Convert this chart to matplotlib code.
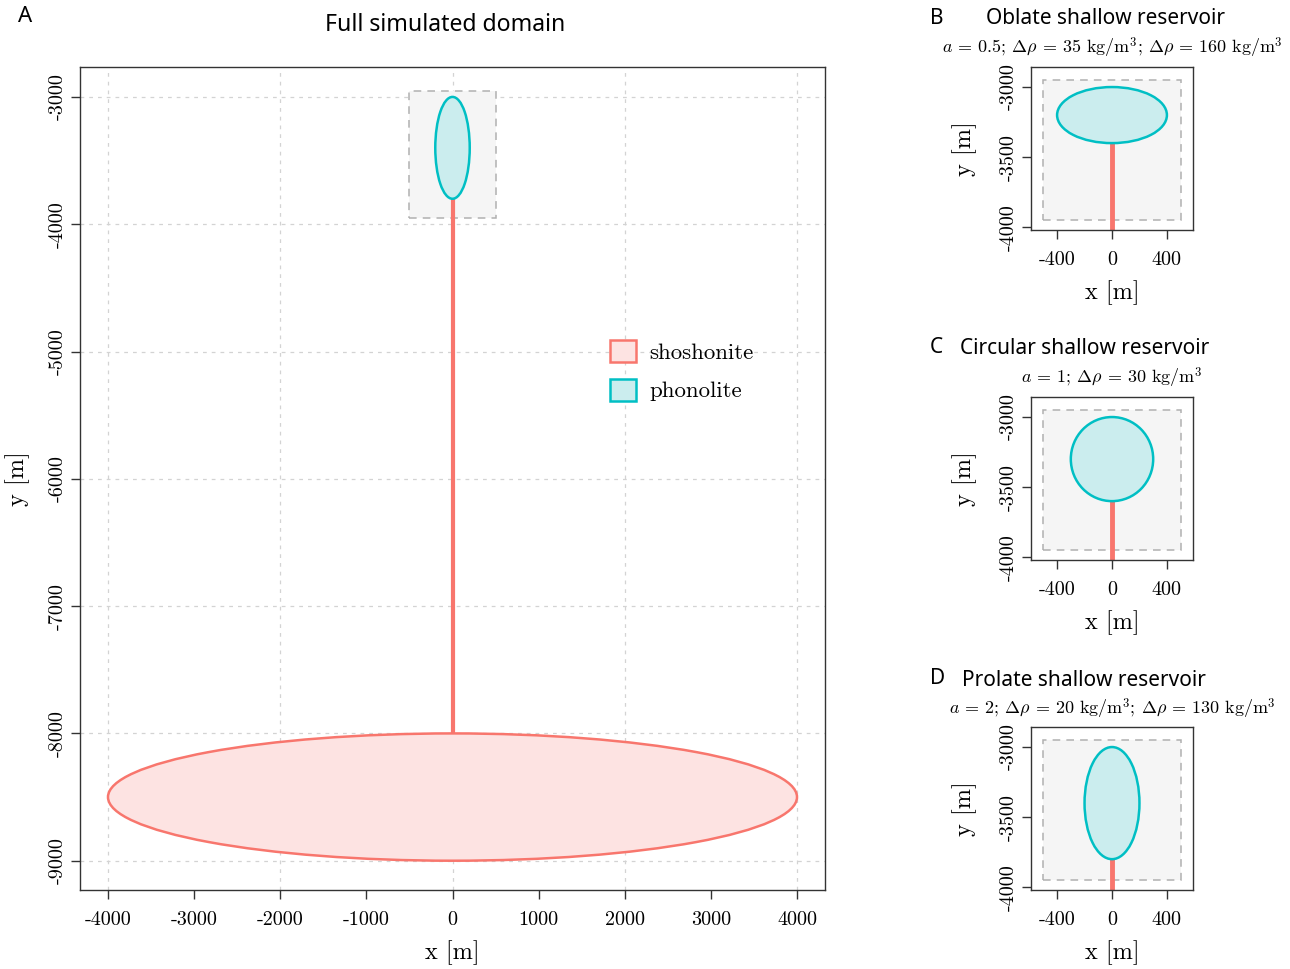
import numpy as np
import matplotlib
matplotlib.use("Agg")
import matplotlib.pyplot as plt
from matplotlib.patches import Ellipse, Rectangle, Patch

plt.rcParams["font.family"] = ["cmr10", "DejaVu Serif"]
plt.rcParams["mathtext.fontset"] = "cm"
plt.rcParams["axes.unicode_minus"] = False
plt.rcParams["axes.formatter.use_mathtext"] = False

RED, CYAN = "#F8766D", "#00BFC4"
RED_FILL, CYAN_FILL = "#FDE3E2", "#CBEDEE"
BOX_FILL = "#F5F5F5"
SANS = ["Noto Sans", "DejaVu Sans"]

# full domain
deep_center = (0, -8500)
deep_semi = (4000, 500)
full_shallow_center = (0, -3400)
full_shallow_semi = (200, 400)
zoom_box_x = (-500, 500)
zoom_box_y = (-3950, -2950)
main_xticks = [-4000, -3000, -2000, -1000, 0, 1000, 2000, 3000, 4000]
main_yticks = [-9000, -8000, -7000, -6000, -5000, -4000, -3000]
main_xgrid = [-4000, -2000, 0, 2000, 4000]

# shallow reservoir variants
panel_letters = ["B", "C", "D"]
panel_titles = ["Oblate shallow reservoir", "Circular shallow reservoir", "Prolate shallow reservoir"]
panel_subtitles = [
    r"$a$ = 0.5; $\Delta\rho$ = 35 kg/m$^3$; $\Delta\rho$ = 160 kg/m$^3$",
    r"$a$ = 1; $\Delta\rho$ = 30 kg/m$^3$",
    r"$a$ = 2; $\Delta\rho$ = 20 kg/m$^3$; $\Delta\rho$ = 130 kg/m$^3$",
]
semi_x = [400, 300, 200]
semi_y = [200, 300, 400]
center_y = [-3200, -3300, -3400]
small_xticks = [-400, 0, 400]
small_yticks = [-4000, -3500, -3000]

legend_labels = ["shoshonite", "phonolite"]


def style_axes(ax):
    for s in ax.spines.values():
        s.set_color("#333333")
        s.set_linewidth(1.0)
    ax.tick_params(direction="out", length=6.5, width=1, color="#333333",
                   labelsize=14.5)
    ax.tick_params(axis="x", pad=9)
    ax.tick_params(axis="y", labelrotation=90, pad=3)
    for lab in ax.get_yticklabels():
        lab.set_va("center")


fig = plt.figure(figsize=(12.9, 9.69), dpi=100)
H = 969.0
W = 1290.0


def axes_px(l, t, r, b):
    return fig.add_axes([l / W, 1 - b / H, (r - l) / W, (b - t) / H])


# ---- panel A
ax = axes_px(80, 67, 825, 890)
ax.set_xlim(-4325, 4325)
ax.set_ylim(-9230, -2765)
for gx in main_xgrid:
    ax.axvline(gx, color="#D3D3D3", lw=0.9, ls=(0, (3, 4)), zorder=0)
for gy in main_yticks:
    ax.axhline(gy, color="#D3D3D3", lw=0.9, ls=(0, (3, 4)), zorder=0)
ax.add_patch(Rectangle((zoom_box_x[0], zoom_box_y[0]), zoom_box_x[1] - zoom_box_x[0],
                       zoom_box_y[1] - zoom_box_y[0], facecolor=BOX_FILL,
                       edgecolor="#B0B0B0", ls=(0, (5, 4)), lw=1.1, zorder=1))
ax.plot([0, 0], [deep_center[1] + deep_semi[1], full_shallow_center[1] - full_shallow_semi[1]],
        color=RED, lw=3, zorder=2, solid_capstyle="butt")
ax.add_patch(Ellipse(deep_center, 2 * deep_semi[0], 2 * deep_semi[1],
                     facecolor=RED_FILL, edgecolor=RED, lw=1.8, zorder=3))
ax.add_patch(Ellipse(full_shallow_center, 2 * full_shallow_semi[0], 2 * full_shallow_semi[1],
                     facecolor=CYAN_FILL, edgecolor=CYAN, lw=1.8, zorder=3))
ax.set_xticks(main_xticks)
ax.set_yticks(main_yticks)
style_axes(ax)
ax.set_xlabel("x [m]", fontsize=17.5)
ax.set_ylabel("y [m]", fontsize=17.5)
ax.xaxis.set_label_coords(0.5, -(953 - 890) / 823)
ax.xaxis.label.set_va("center")
ax.yaxis.set_label_coords(-(80 - 18) / 745, 0.5)
ax.yaxis.label.set_va("center")
handles = [Patch(facecolor=RED_FILL, edgecolor=RED, lw=1.8),
           Patch(facecolor=CYAN_FILL, edgecolor=CYAN, lw=1.8)]
ax.legend(handles, legend_labels, loc="upper left", bbox_to_anchor=(0.712, 0.668),
          frameon=False, fontsize=16.5, handlelength=1.1, handleheight=1.1,
          labelspacing=0.68, handletextpad=0.6, borderpad=0, borderaxespad=0)

fig.text(18 / W, 1 - 16 / H, "A", family=SANS, fontsize=16, va="center", ha="left")
fig.text(445 / W, 1 - 25 / H, "Full simulated domain", family=SANS, fontsize=16.6,
         va="center", ha="center")

# ---- panels B, C, D
tops = [67, 397, 727]
title_y = [19, 349, 680]
title_x = [986, 960, 962]
for i in range(3):
    t = tops[i]
    a = axes_px(1031, t, 1193, t + 163)
    a.set_xlim(-590, 590)
    a.set_ylim(-4020, -2857)
    a.add_patch(Rectangle((zoom_box_x[0], zoom_box_y[0]), zoom_box_x[1] - zoom_box_x[0],
                          zoom_box_y[1] - zoom_box_y[0], facecolor=BOX_FILL,
                          edgecolor="#B0B0B0", ls=(0, (5, 4)), lw=1.1, zorder=1))
    a.plot([0, 0], [-4100, center_y[i] - semi_y[i]], color=RED, lw=3.5, zorder=2,
           solid_capstyle="butt")
    a.add_patch(Ellipse((0, center_y[i]), 2 * semi_x[i], 2 * semi_y[i],
                        facecolor=CYAN_FILL, edgecolor=CYAN, lw=1.8, zorder=3))
    a.set_xticks(small_xticks)
    a.set_yticks(small_yticks)
    style_axes(a)
    a.set_xlabel("x [m]", fontsize=17.5)
    a.set_ylabel("y [m]", fontsize=17.5)
    a.xaxis.set_label_coords(0.5, -(293 - 230) / 163)
    a.xaxis.label.set_va("center")
    a.yaxis.set_label_coords(-(1031 - 965) / 162, 0.5)
    a.yaxis.label.set_va("center")

    fig.text(930 / W, 1 - (title_y[i] - 1) / H, panel_letters[i], family=SANS, fontsize=15,
             va="center", ha="left")
    fig.text(title_x[i] / W, 1 - title_y[i] / H, panel_titles[i], family=SANS, fontsize=15,
             va="center", ha="left")
    fig.text(1112 / W, 1 - (title_y[i] + 29) / H, panel_subtitles[i], fontsize=13,
             va="center", ha="center")

fig.savefig("out.png", dpi=100)
